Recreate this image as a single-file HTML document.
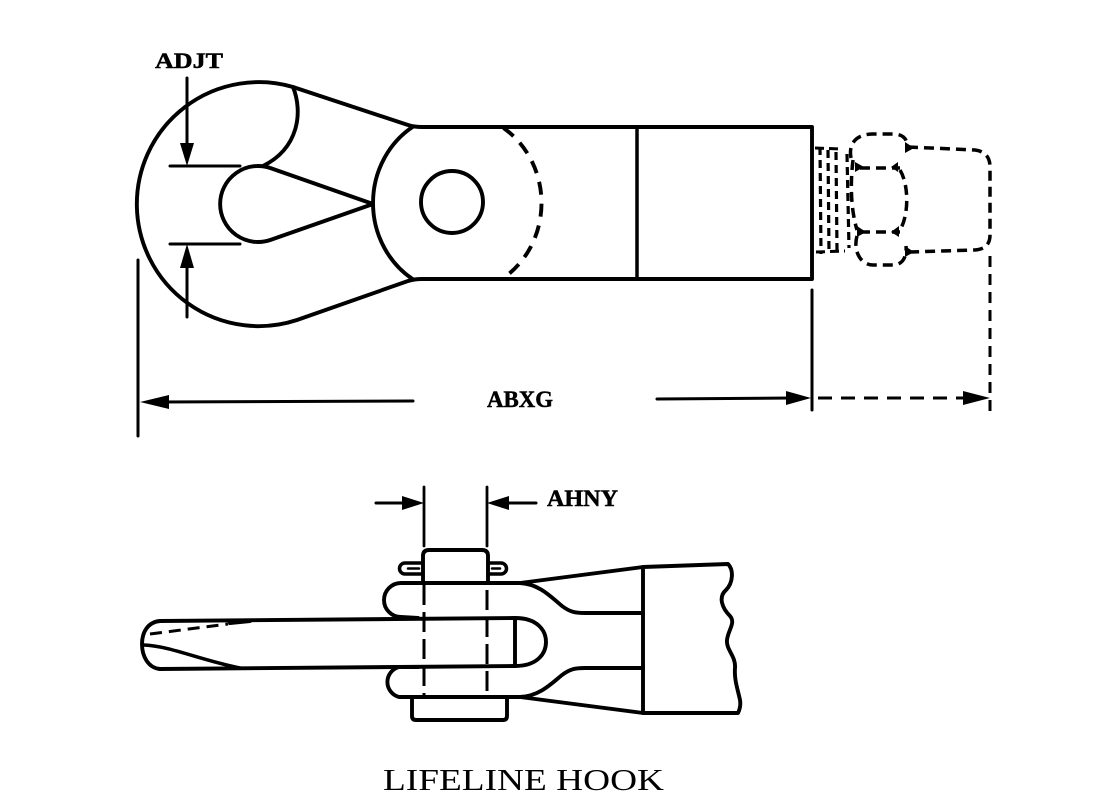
<!DOCTYPE html>
<html>
<head>
<meta charset="utf-8">
<style>
html,body{margin:0;padding:0;background:#fff;}
svg{display:block;}
</style>
</head>
<body>
<svg width="1094" height="808" viewBox="0 0 1094 808" xmlns="http://www.w3.org/2000/svg">
<rect width="1094" height="808" fill="#fff"/>
<g fill="none" stroke="#000" stroke-linecap="round" stroke-linejoin="round">
  <!-- ===== TOP VIEW ===== -->
  <path d="M293,87 L408,125 Q414,127 422,127 L812,127 L812,279 L422,279 Q414,279 408,281 L297,320 A122,122 0 1 1 293,87 Z" stroke-width="3.9"/>
  <path d="M293,87 C303,112 299,148 263,166" stroke-width="3.9"/>
  <path d="M373,204 L270.6,168.1 A38,38 0 1 0 270.6,239.9 Z" stroke-width="3.9"/>
  <path d="M412.5,127 A85,90 0 0 0 412.5,279" stroke-width="3.9"/>
  <path d="M503.5,128 A85,90 0 0 1 503.5,278" stroke-width="3.9" stroke-dasharray="13 9" stroke-linecap="butt"/>
  <circle cx="452" cy="202" r="31" stroke-width="3.9"/>
  <line x1="637" y1="127" x2="637" y2="279" stroke-width="3.5"/>

  <!-- threads -->
  <g stroke-width="3.2" stroke-dasharray="8 5" stroke-linecap="butt">
    <line x1="820" y1="147" x2="821" y2="254"/>
    <line x1="828" y1="150" x2="829" y2="252"/>
    <line x1="836" y1="152" x2="837" y2="250"/>
    <line x1="847" y1="154" x2="849" y2="248"/>
  </g>
  <path d="M815,148 L842,149" stroke-width="3" stroke-dasharray="9 5" stroke-linecap="butt"/>
  <path d="M816,252 L845,251" stroke-width="3" stroke-dasharray="9 5" stroke-linecap="butt"/>

  <!-- nut (dashed) -->
  <g stroke-width="3.5" stroke-dasharray="10 6" stroke-linecap="butt">
    <path d="M851,158 C848,142 858,134 873,134 L893,134 C904,134 908,140 907,148"/>
    <path d="M853,160 C850,185 851,210 857,230"/>
    <path d="M900,170 C909,185 909,215 900,230"/>
    <path d="M860,168 L900,168"/>
    <path d="M860,232 L900,232"/>
    <path d="M857,236 C853,250 860,265 873,265 L893,265 C903,265 907,256 906,246"/>
    <path d="M908,147 L975,150 Q990,152 990,167 L990,235 Q990,249 975,250 L910,252"/>
  </g>
  <g fill="#000" stroke="none">
    <path d="M905,142 L914,148 L905,153 Z"/>
    <path d="M905,246 L914,252 L905,257 Z"/>
    <path d="M855,162 L864,167 L855,172 Z"/>
    <path d="M898,162 L891,167 L898,172 Z"/>
    <path d="M857,226 L866,232 L857,237 Z"/>
    <path d="M899,226 L891,232 L899,237 Z"/>
  </g>

  <!-- ADJT dimension -->
  <line x1="187" y1="78" x2="187" y2="150" stroke-width="3"/>
  <line x1="170" y1="166" x2="240" y2="166" stroke-width="3"/>
  <line x1="170" y1="244" x2="240" y2="244" stroke-width="3"/>
  <line x1="187" y1="262" x2="187" y2="317" stroke-width="3"/>

  <!-- ABXG dimension -->
  <line x1="138" y1="260" x2="138" y2="436" stroke-width="3"/>
  <line x1="160" y1="402" x2="413" y2="401" stroke-width="3"/>
  <line x1="657" y1="399" x2="792" y2="398" stroke-width="3"/>
  <line x1="812" y1="290" x2="812" y2="410" stroke-width="3"/>
  <line x1="818" y1="398" x2="966" y2="398" stroke-width="3" stroke-dasharray="14 9" stroke-linecap="butt"/>
  <line x1="990" y1="256" x2="990" y2="413" stroke-width="3" stroke-dasharray="11 7" stroke-linecap="butt"/>

  <!-- ===== SIDE VIEW ===== -->
  <path d="M160,621 L515,618" stroke-width="3.9"/>
  <path d="M160,669 L515,666" stroke-width="3.9"/>
  <path d="M160,621 C148,622 142,632 142,644 C142,656 148,668 160,669" stroke-width="3.9"/>
  <path d="M144,645 C170,646 200,660 240,668" stroke-width="3.5"/>
  <path d="M150,634 L228,624" stroke-width="3" stroke-dasharray="12 7" stroke-linecap="butt"/>
  <path d="M230,623 L250,621" stroke-width="4"/>
  <path d="M515,618 C538,618 546,631 546,642 C546,653 538,666 515,666 Z" stroke-width="3.9"/>

  <path d="M520,583 L401,583 A17,17 0 0 0 401,617 L418,618" stroke-width="3.9"/>
  <path d="M520,697 L399,697 A15.5,15.5 0 0 1 399,667 L418,667" stroke-width="3.9"/>
  <path d="M520,583 L643,567" stroke-width="3.9"/>
  <path d="M520,583 C540,584 552,598 562,606 C570,612 575,613 585,613 L643,613" stroke-width="3.9"/>
  <path d="M520,697 L643,713" stroke-width="3.9"/>
  <path d="M520,697 C540,696 552,683 562,675 C570,669 575,668 585,668 L643,668" stroke-width="3.9"/>
  <path d="M643,567 L728,564 C734,570 733,583 726,590 C718,597 722,608 730,616 C736,623 728,630 727,640 C726,650 736,656 735,668 C734,680 738,690 740,700 C741,706 739,711 738,713 L643,713 Z" stroke-width="3.9"/>

  <path d="M423,583 L423,556 Q423,550 429,550 L482,550 Q488,550 488,556 L488,583" stroke-width="3.9"/>
  <path d="M423,563 L405,563 A5.5,5.5 0 0 0 405,574 L423,574" stroke-width="3.5"/>
  <path d="M408,568.5 L419,568.5" stroke-width="2.5"/>
  <path d="M488,563 L501,563 A5.5,5.5 0 0 1 501,574 L488,574" stroke-width="3.5"/>
  <path d="M492,568.5 L500,568.5" stroke-width="2.5"/>
  <path d="M412,697 L412,716 Q412,720 416,720 L503,720 Q507,720 507,716 L507,697" stroke-width="3.9"/>
  <line x1="424" y1="585" x2="424" y2="697" stroke-width="3" stroke-dasharray="20 7" stroke-linecap="butt"/>
  <line x1="487" y1="590" x2="487" y2="697" stroke-width="3" stroke-dasharray="20 7" stroke-linecap="butt"/>

  <!-- AHNY dimension -->
  <line x1="424" y1="487" x2="424" y2="546" stroke-width="2.8"/>
  <line x1="487" y1="487" x2="487" y2="546" stroke-width="2.8"/>
  <line x1="376" y1="503" x2="406" y2="503" stroke-width="3"/>
  <line x1="505" y1="503" x2="536" y2="503" stroke-width="3"/>
</g>

<g fill="#000" stroke="none">
  <path d="M187,166 L180,143 L194,143 Z"/>
  <path d="M187,244 L180,268 L194,268 Z"/>
  <path d="M140,402 L169,395 L169,409 Z"/>
  <path d="M811,398 L786,391 L786,405 Z"/>
  <path d="M990,398 L963,391 L963,405 Z"/>
  <path d="M424,503 L402,496 L402,510 Z"/>
  <path d="M487,503 L509,496 L509,510 Z"/>
</g>

<g font-family="'Liberation Serif', serif" font-weight="bold" fill="#000" stroke="#000" stroke-width="0.5">
  <text x="155" y="68" font-size="22" textLength="68" lengthAdjust="spacingAndGlyphs">ADJT</text>
  <text x="487" y="407" font-size="23" textLength="66" lengthAdjust="spacingAndGlyphs">ABXG</text>
  <text x="547" y="506" font-size="23" textLength="71" lengthAdjust="spacingAndGlyphs">AHNY</text>
</g>
<text x="383" y="790" font-family="'Liberation Serif', serif" font-size="31" fill="#000" textLength="281" lengthAdjust="spacingAndGlyphs">LIFELINE HOOK</text>
</svg>
</body>
</html>
